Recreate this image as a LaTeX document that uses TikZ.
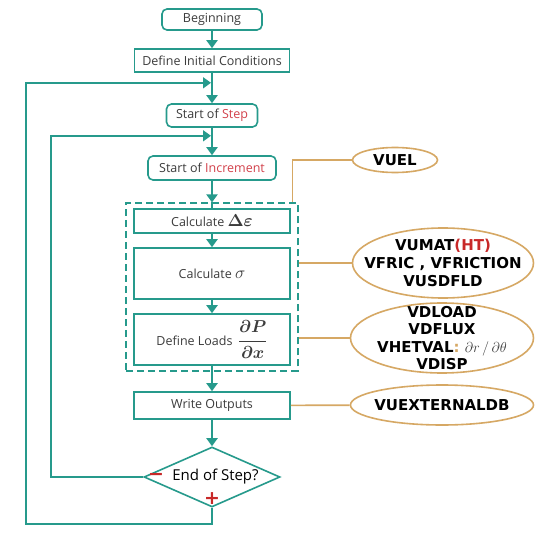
\documentclass[tikz,border=0pt]{standalone}
\usepackage{fontspec}
\setmainfont{Open Sans}
\newfontfamily\ellfont{DejaVu Sans}
\usetikzlibrary{arrows.meta,shapes.geometric,positioning,fit}
\definecolor{teal1}{RGB}{38,154,140}
\definecolor{tan1}{RGB}{214,168,100}
\definecolor{red1}{RGB}{210,65,75}
\definecolor{red2}{RGB}{200,40,40}
\definecolor{txt}{RGB}{60,60,60}

\begin{document}
\begin{tikzpicture}[x=1pt,y=1pt,>={Triangle[width=11pt,length=8pt]},
    box/.style={draw=teal1,line width=1.6pt,fill=white,text=txt,inner sep=0pt,
                font=\fontsize{12.5}{14}\selectfont},
    rbox/.style={box,rounded corners=5pt},
    flow/.style={->,draw=teal1,line width=2.6pt},
    loop/.style={->,draw=teal1,line width=1.6pt,shorten >=1pt},
    soft/.style={draw=tan1,line width=1.6pt},
    vfun/.style={ellipse,draw=tan1,line width=1.6pt,fill=white,inner sep=0pt},
    vtext/.style={font=\ellfont\bfseries\fontsize{15}{18}\selectfont,align=center,text=black},
    sign/.style={text=red2,font=\ellfont\bfseries\fontsize{19}{19}\selectfont,inner sep=0pt}]
  \useasboundingbox (0,0) rectangle (550,-533);
  \fill[white] (0,0) rectangle (550,-533);

  \node[rbox,minimum width=100pt,minimum height=21pt] (begin) at (212,-19.5) {Beginning};
  \node[box,minimum width=155pt,minimum height=23pt] (init) [below of=begin,node distance=41pt] {Define Initial Conditions};
  \node[rbox,minimum width=91pt,minimum height=23pt] (step) [below of=init,node distance=55pt] {Start of \textcolor{red1}{Step}};
  \node[rbox,minimum width=128pt,minimum height=24pt] (incr) [below of=step,node distance=52.5pt] {Start of \textcolor{red1}{Increment}};
  \node[box,minimum width=156pt,minimum height=24pt] (deps) [below of=incr,node distance=53pt] {Calculate {\fontsize{19}{19}\selectfont\boldmath$\Delta\varepsilon$}};
  \node[box,minimum width=156pt,minimum height=51pt] (sigma) [below of=deps,node distance=52.5pt] {Calculate {\fontsize{18}{18}\selectfont$\sigma$}};
  \node[box,minimum width=156pt,minimum height=51pt] (loads) [below of=sigma,node distance=66pt] {Define Loads\, {\fontsize{16}{16}\selectfont\boldmath$\displaystyle\frac{\partial P}{\partial x}$}};
  \node[box,minimum width=156pt,minimum height=27pt] (write) [below of=loads,node distance=66pt] {Write Outputs};
  \node[diamond,draw=teal1,line width=1.6pt,fill=white,inner sep=0pt,aspect=2.27,
        minimum width=136pt,minimum height=60pt,font=\fontsize{15}{15}\selectfont] (endq)
        [below of=write,node distance=71.5pt] {\hspace{7pt}End of Step?};
  \node[draw=teal1,line width=1.6pt,dash pattern=on 7pt off 4pt,fit=(deps)(loads),
        inner xsep=7pt,inner ysep=5pt] (dash) {};

  \draw[flow] (begin) -- (init);
  \draw[flow] (init) -- (step);
  \draw[flow] (step) -- (incr);
  \draw[flow] (incr) -- (dash.north);
  \draw[teal1,line width=2.6pt] (dash.north) -- (deps);
  \draw[flow] (deps) -- (sigma);
  \draw[flow] (sigma) -- (loads);
  \draw[flow] (loads) -- (write);
  \draw[flow] (write) -- (endq);

  \coordinate (j1) at ([yshift=-10pt]init.south);
  \coordinate (j2) at ([yshift=-8pt]step.south);
  \coordinate (oL) at ([xshift=-186pt]j1);
  \coordinate (iL) at ([xshift=-161pt]j2);
  \coordinate (o1) at ([yshift=-16pt]endq.south);
  \draw[loop] (endq.west) -| (iL) -- (j2);
  \draw[loop] (endq.south) -- (o1) -| (oL) -- (j1);

  \node[sign] (minus) at ([xshift=13pt]endq.west) {−};
  \node[sign] (plus) at ([yshift=9pt]endq.south) {+};

  \node[vfun,minimum width=85pt,minimum height=25pt,label={[vtext]center:VUEL}] (vuel) at (395,-160) {};
  \node[vfun,minimum width=181pt,minimum height=70pt,
        label={[vtext]center:{VUMAT\textcolor{red2}{(HT)}\\VFRIC , VFRICTION\\VUSDFLD}}] (vumat) at (443,-263) {};
  \node[vfun,minimum width=183pt,minimum height=70pt,
        label={[vtext,font=\ellfont\bfseries\fontsize{15}{17.5}\selectfont]center:{VDLOAD\\VDFLUX\\VHETVAL\textcolor{tan1}{:} \textcolor{txt}{$\partial r\,/\,\partial\theta$}\\VDISP}}] (vdload) at (442,-338) {};
  \node[vfun,minimum width=183pt,minimum height=40pt,label={[vtext]center:VUEXTERNALDB}] (vuext) at (442,-405) {};

  \draw[soft] (vuel.west) -| ([xshift=-6pt]dash.north east);
  \draw[soft] (vumat.west) -- (vumat.west -| dash.east);
  \draw[soft] (vdload.west) -- (vdload.west -| dash.east);
  \draw[soft] (vuext) -- (write);
\end{tikzpicture}
\end{document}
